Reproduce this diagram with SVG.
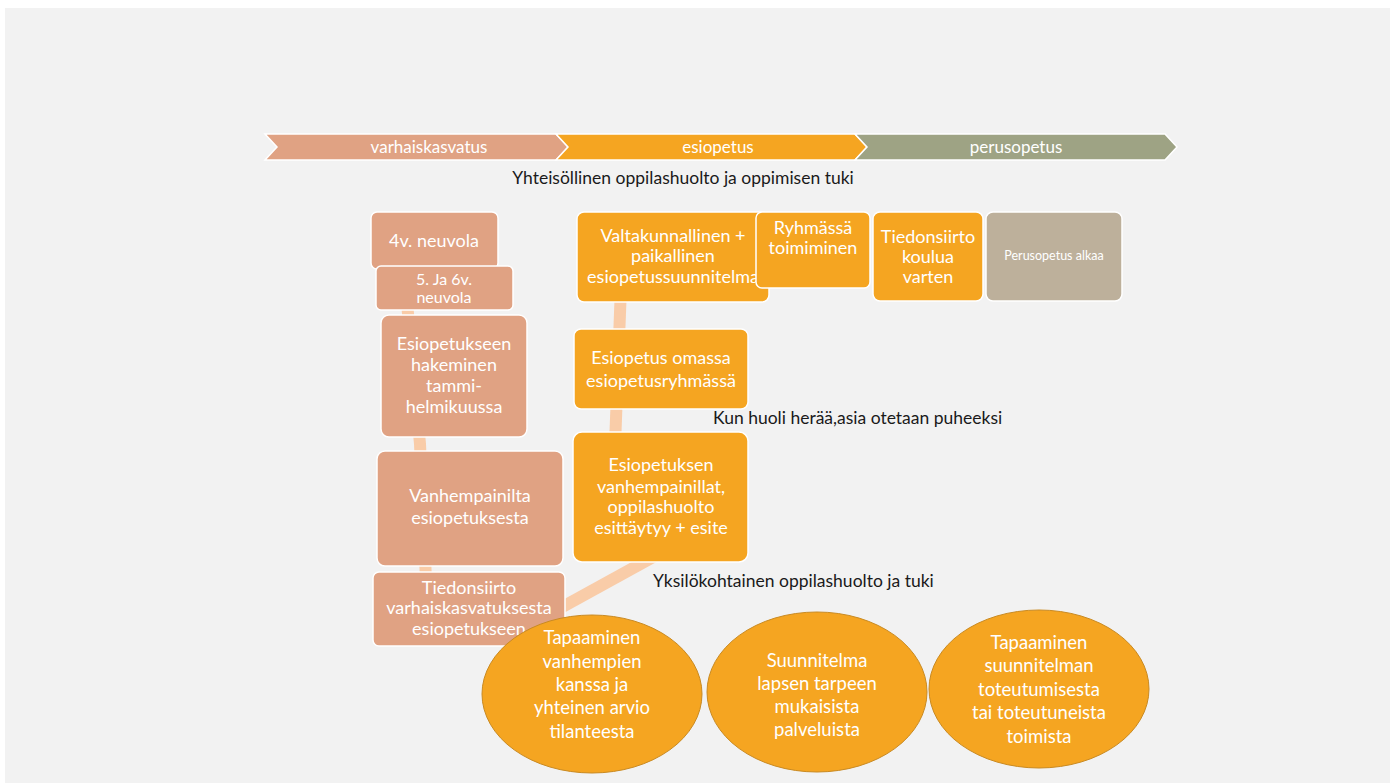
<svg xmlns="http://www.w3.org/2000/svg" width="1397" height="783" viewBox="0 0 1397 783">
<style>
.t{font-family:Lato,"Open Sans","DejaVu Sans",sans-serif;fill:#fff;text-anchor:middle}
.b{font-size:18px}
.e{font-size:18.5px}
.c{font-size:17px}
.k{font-family:Lato,"Open Sans","DejaVu Sans",sans-serif;fill:#1a1a1a;font-size:17.5px}
.sal{fill:#E0A283;stroke:#fff;stroke-width:1.5}
.org{fill:#F5A521;stroke:#fff;stroke-width:1.5}
.ell{fill:#F5A521;stroke:#C98A22;stroke-width:1}
.con{fill:none;stroke:#F9CCA8;stroke-width:12;stroke-linecap:butt}
</style>
<rect x="0" y="0" width="1397" height="783" fill="#fff"/>
<rect x="5" y="8" width="1385" height="775" fill="#F2F2F2"/>

<g id="timeline">
<polygon points="265,134 556,134 568,147 556,160 265,160 277,147" fill="#E0A283" stroke="#fff" stroke-width="1.5"/>
<polygon points="556,134 855,134 867,147 855,160 556,160 568,147" fill="#F5A521" stroke="#fff" stroke-width="1.5"/>
<polygon points="855,134 1165,134 1177,147 1165,160 855,160 867,147" fill="#9EA384" stroke="#fff" stroke-width="1.5"/>
<text class="t c" x="429" y="153">varhaiskasvatus</text>
<text class="t c" x="718" y="153">esiopetus</text>
<text class="t c" x="1016" y="153">perusopetus</text>
</g>

<g id="labels">
<text class="k" x="683" y="184" text-anchor="middle">Yhteisöllinen oppilashuolto ja oppimisen tuki</text>
<text class="k" x="713" y="424">Kun huoli herää,asia otetaan puheeksi</text>
<text class="k" x="653" y="587">Yksilökohtainen oppilashuolto ja tuki</text>
</g>

<g id="connectors">
<polyline class="con" points="404,270 420,444 426,580"/>
<line class="con" x1="555" y1="611" x2="655" y2="556" stroke-width="11"/>
<line class="con" x1="622" y1="260" x2="615" y2="445"/>
</g>

<g id="n-4v">
<rect class="sal" x="371" y="212" width="127" height="57" rx="6"/>
<text class="t b" x="434" y="247">4v. neuvola</text>
</g>
<g id="n-56v">
<rect class="sal" x="376" y="266" width="137" height="44" rx="5"/>
<text class="t" x="444" y="285" font-size="16">5. Ja 6v.</text>
<text class="t" x="444" y="303" font-size="16">neuvola</text>
</g>
<g id="n-hakeminen">
<rect class="sal" x="381" y="315" width="146" height="122" rx="8"/>
<text class="t b" x="454" y="350">Esiopetukseen</text>
<text class="t b" x="454" y="371">hakeminen</text>
<text class="t b" x="454" y="392">tammi-</text>
<text class="t b" x="454" y="413">helmikuussa</text>
</g>
<g id="n-vanhempainilta">
<rect class="sal" x="377" y="451" width="186" height="115" rx="8"/>
<text class="t b" x="470" y="502">Vanhempainilta</text>
<text class="t b" x="470" y="524">esiopetuksesta</text>
</g>
<g id="n-tiedonsiirto-vk">
<rect class="sal" x="373" y="572" width="192" height="74" rx="6"/>
<text class="t b" x="469" y="594">Tiedonsiirto</text>
<text class="t b" x="469" y="614">varhaiskasvatuksesta</text>
<text class="t b" x="469" y="635">esiopetukseen</text>
</g>

<g id="n-valtakunnallinen">
<rect class="org" x="577" y="212" width="192" height="90" rx="7"/>
<text class="t b" x="673" y="242">Valtakunnallinen +</text>
<text class="t b" x="673" y="262">paikallinen</text>
<text class="t b" x="673" y="283">esiopetussuunnitelma</text>
</g>
<g id="n-ryhmassa">
<rect class="org" x="756" y="212" width="114" height="76" rx="6"/>
<text class="t b" x="813" y="234">Ryhmässä</text>
<text class="t b" x="813" y="254">toimiminen</text>
</g>
<g id="n-tiedonsiirto-koulu">
<rect class="org" x="873" y="212" width="110" height="89" rx="7"/>
<text class="t b" x="928" y="243">Tiedonsiirto</text>
<text class="t b" x="928" y="263">koulua</text>
<text class="t b" x="928" y="283">varten</text>
</g>
<g id="n-perusopetus-alkaa">
<rect x="986" y="212" width="136" height="89" rx="7" fill="#BDB09B" stroke="#fff" stroke-width="1.5"/>
<text class="t" x="1054" y="260" font-size="12.5">Perusopetus alkaa</text>
</g>
<g id="n-omassa">
<rect class="org" x="574" y="329" width="174" height="80" rx="7"/>
<text class="t b" x="661" y="364">Esiopetus omassa</text>
<text class="t b" x="661" y="387">esiopetusryhmässä</text>
</g>
<g id="n-vanhempainillat">
<rect class="org" x="573" y="432" width="175" height="130" rx="9"/>
<text class="t b" x="661" y="471">Esiopetuksen</text>
<text class="t b" x="661" y="493">vanhempainillat,</text>
<text class="t b" x="661" y="513">oppilashuolto</text>
<text class="t b" x="661" y="534">esittäytyy + esite</text>
</g>

<g id="n-tapaaminen1">
<ellipse class="ell" cx="592" cy="694" rx="110" ry="79"/>
<text class="t e" x="592" y="644">Tapaaminen</text>
<text class="t e" x="592" y="668">vanhempien</text>
<text class="t e" x="592" y="691">kanssa ja</text>
<text class="t e" x="592" y="714">yhteinen arvio</text>
<text class="t e" x="592" y="738">tilanteesta</text>
</g>
<g id="n-suunnitelma">
<ellipse class="ell" cx="817" cy="692" rx="110" ry="80"/>
<text class="t e" x="817" y="667">Suunnitelma</text>
<text class="t e" x="817" y="690">lapsen tarpeen</text>
<text class="t e" x="817" y="713">mukaisista</text>
<text class="t e" x="817" y="736">palveluista</text>
</g>
<g id="n-tapaaminen2">
<ellipse class="ell" cx="1039" cy="689" rx="110" ry="79"/>
<text class="t e" x="1039" y="649">Tapaaminen</text>
<text class="t e" x="1039" y="672">suunnitelman</text>
<text class="t e" x="1039" y="696">toteutumisesta</text>
<text class="t e" x="1039" y="719">tai toteutuneista</text>
<text class="t e" x="1039" y="743">toimista</text>
</g>
</svg>
